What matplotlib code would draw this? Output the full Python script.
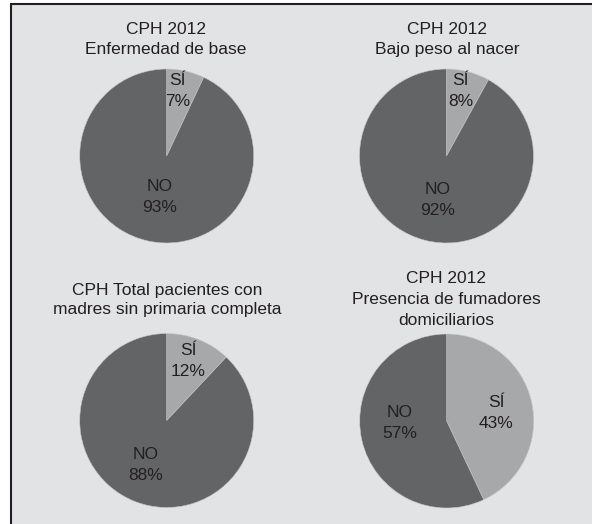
import matplotlib
matplotlib.use('Agg')
import matplotlib.pyplot as plt
from matplotlib.patches import Rectangle

plt.rcParams['font.family'] = ['Liberation Sans', 'DejaVu Sans']

# ---------------------------------------------------------------- data
titles = ['CPH 2012\nEnfermedad de base',
          'CPH 2012\nBajo peso al nacer',
          'CPH Total pacientes con\nmadres sin primaria completa',
          'CPH 2012\nPresencia de fumadores\ndomiciliarios']
categories = ['SÍ', 'NO']
si_values = [7, 8, 12, 43]
no_values = [93, 92, 88, 57]

# ---------------------------------------------------------------- layout (pixels)
W, H = 592, 524
R = 87
centers = [(166.7, 156), (446.5, 156), (166.7, 420.5), (446.7, 421)]
# x centre and baseline of the last title line
title_pos = [(166, 54), (447, 54), (167, 314), (446, 325)]
title_ls = [1.4, 1.4, 1.3, 1.5]
# label offsets in pie-radius units: (SÍ, NO)
label_off = [[(0.125, 0.744), (-0.077, -0.473)],
             [(0.164, 0.744), (-0.107, -0.51)],
             [(0.246, 0.686), (-0.24, -0.513)],
             [(0.567, 0.092), (-0.537, -0.023)]]

TXT = '#231f20'
colors = ['#a7a8aa', '#636466']
FS = 12.5

fig = plt.figure(figsize=(W / 100, H / 100), dpi=100, facecolor='white')

# grey panel with dark frame (cut off at right/bottom)
fig.patches.append(Rectangle((11 / W, -0.1), 1.2, (H - 4) / H + 0.1,
                             transform=fig.transFigure, facecolor='#e2e3e5',
                             edgecolor=TXT, linewidth=1.5, zorder=-5))

for i in range(4):
    cx, cy = centers[i]
    ax = fig.add_axes([(cx - R) / W, (H - cy - R) / H, 2 * R / W, 2 * R / H])
    vals = [si_values[i], no_values[i]]
    ax.pie(vals, colors=colors, startangle=90, counterclock=False, radius=1,
           wedgeprops=dict(edgecolor='#c8c9cb', linewidth=0.4))
    ax.set_xlim(-1, 1)
    ax.set_ylim(-1, 1)
    ax.axis('off')
    for j in range(2):
        dx, dy = label_off[i][j]
        ax.text(dx, dy, '%s\n%d%%' % (categories[j], vals[j]), ha='center',
                va='center', fontsize=FS, color=TXT, linespacing=1.5)

    tx, ty = title_pos[i]
    fig.text(tx / W, 1 - ty / H, titles[i], ha='center', va='baseline',
             fontsize=FS, color=TXT, linespacing=title_ls[i])

fig.savefig('out.png', dpi=100, facecolor='white')
